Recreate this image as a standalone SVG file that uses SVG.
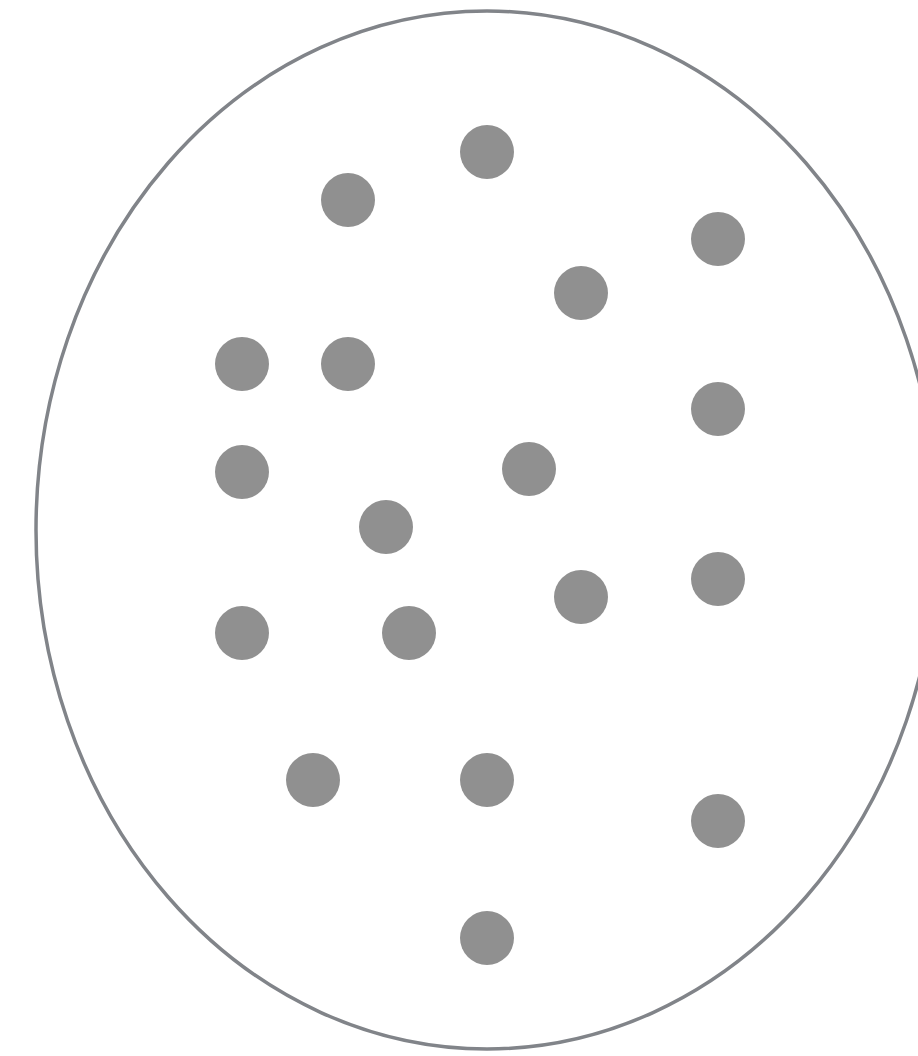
<svg xmlns="http://www.w3.org/2000/svg" width="918" height="1056" viewBox="0 0 918 1056">
<style>
.dot{fill:#909090}
.set{fill:#fff;stroke:#818489;stroke-width:3.5}
</style>
<rect width="918" height="1056" fill="#fff"/>
<g id="set"><ellipse class="set" cx="487" cy="530" rx="451" ry="519"/></g>
<g id="dots">
<circle id="d1" class="dot" cx="487" cy="152" r="27"/>
<circle id="d2" class="dot" cx="348" cy="200" r="27"/>
<circle id="d3" class="dot" cx="718" cy="239" r="27"/>
<circle id="d4" class="dot" cx="581" cy="293" r="27"/>
<circle id="d5" class="dot" cx="242" cy="364" r="27"/>
<circle id="d6" class="dot" cx="348" cy="364" r="27"/>
<circle id="d7" class="dot" cx="718" cy="409" r="27"/>
<circle id="d8" class="dot" cx="242" cy="472" r="27"/>
<circle id="d9" class="dot" cx="529" cy="469" r="27"/>
<circle id="d10" class="dot" cx="386" cy="527" r="27"/>
<circle id="d11" class="dot" cx="581" cy="597" r="27"/>
<circle id="d12" class="dot" cx="718" cy="579" r="27"/>
<circle id="d13" class="dot" cx="242" cy="633" r="27"/>
<circle id="d14" class="dot" cx="409" cy="633" r="27"/>
<circle id="d15" class="dot" cx="313" cy="780" r="27"/>
<circle id="d16" class="dot" cx="487" cy="780" r="27"/>
<circle id="d17" class="dot" cx="718" cy="821" r="27"/>
<circle id="d18" class="dot" cx="487" cy="938" r="27"/>
</g>
</svg>
